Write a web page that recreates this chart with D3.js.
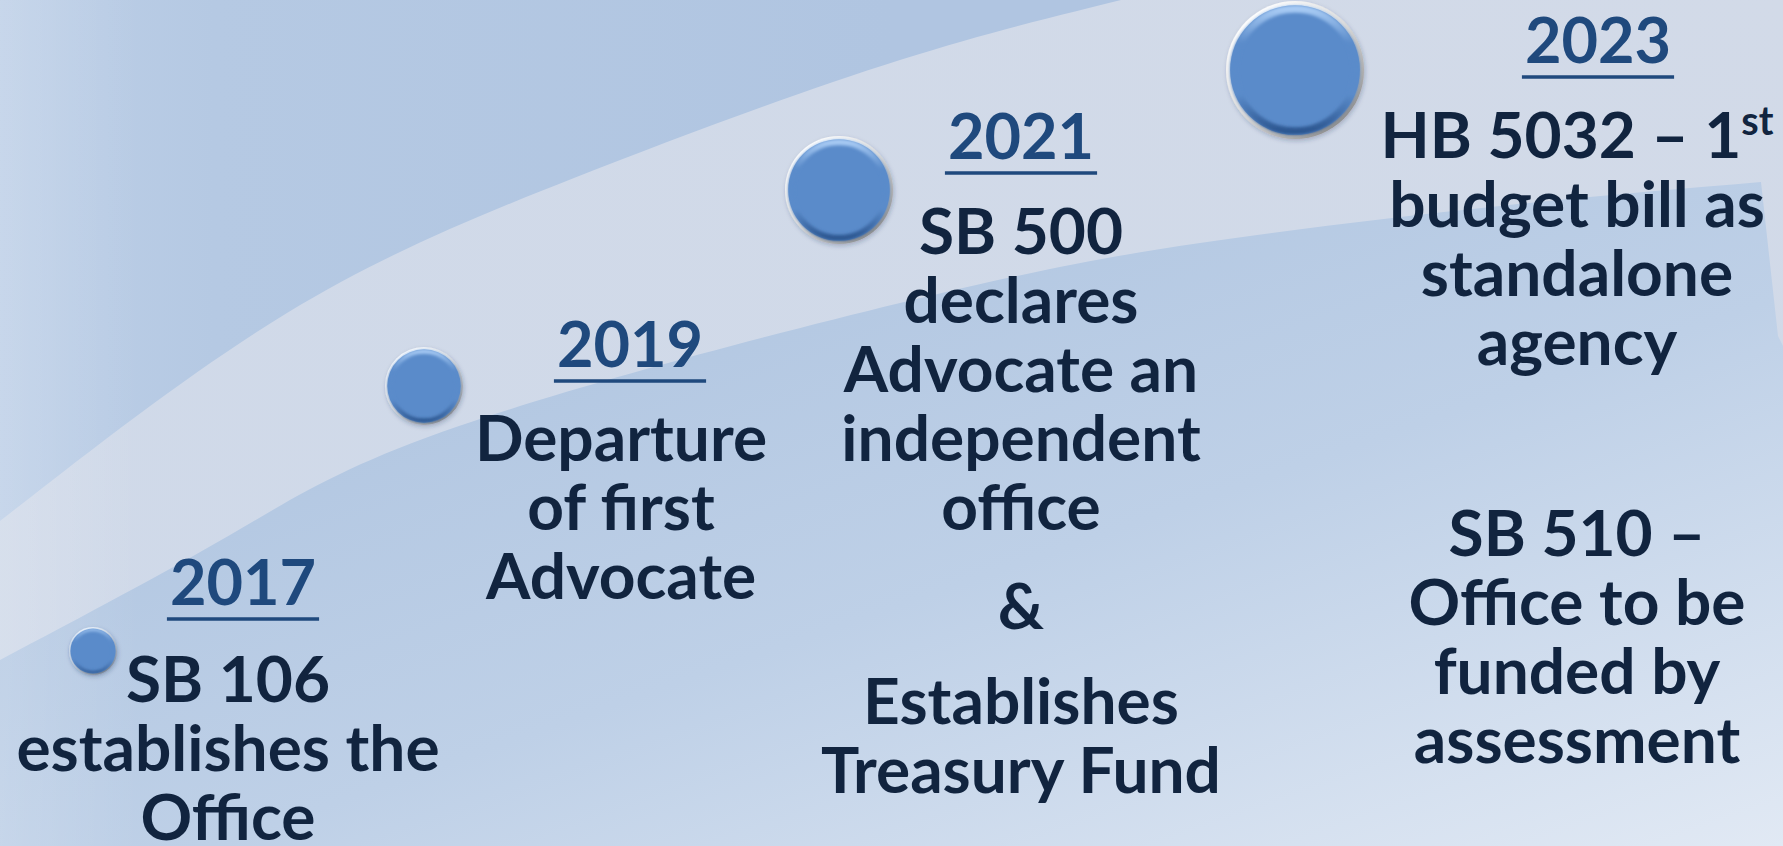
<!DOCTYPE html>
<html>
<head>
<meta charset="utf-8">
<script src="https://cdn.jsdelivr.net/npm/d3@7"></script>
<style>
  body { margin: 0; overflow: hidden; background: #b0c5e1; }
  svg { display: block; font-family: Lato, 'Open Sans', sans-serif; font-weight: 700; }
</style>
</head>
<body>
<svg></svg>
<script>
const width = 1783;
const height = 846;

// timeline data
const years = ['2017', '2019', '2021', '2023'];
const markerSize = [1, 2, 3, 4];
const notes2017 = [['SB 106', 'establishes the', 'Office']];
const notes2019 = [['Departure', 'of first', 'Advocate']];
const notes2021 = [['SB 500', 'declares', 'Advocate an', 'independent', 'office'], ['&'], ['Establishes', 'Treasury Fund']];
const notes2023 = [['HB 5032 – 1^st', 'budget bill as', 'standalone', 'agency'], ['SB 510 –', 'Office to be', 'funded by', 'assessment']];
const notes = [notes2017, notes2019, notes2021, notes2023];

// layout
const fontSize = 64;
const lineHeight = 69;
const dotX = d3.scaleOrdinal(years, [93, 424, 839, 1295]);
const dotY = d3.scaleOrdinal(years, [651, 386, 190, 70]);
const dotR = d3.scaleLinear().domain([1, 4]).range([24, 69]);
const yearX = d3.scaleOrdinal(years, [243, 630, 1021, 1598]);
const yearY = d3.scaleOrdinal(years, [605, 367, 159, 63]);
const textX = d3.scaleOrdinal(years, [228, 621, 1021, 1577]);
const blockY = d3.scaleOrdinal(years, [[702], [461], [254, 629, 724], [158, 556]]);

const svg = d3.select('svg')
  .attr('width', width)
  .attr('height', height);

const defs = svg.append('defs');

const grad = (id, attrs, stops) => {
  const g = defs.append('linearGradient').attr('id', id);
  Object.entries(attrs).forEach(([k, v]) => g.attr(k, v));
  stops.forEach(([o, c, op]) => g.append('stop').attr('offset', o).attr('stop-color', c).attr('stop-opacity', op == null ? 1 : op));
};

grad('bgTop', { x1: 0, y1: 0, x2: 1, y2: 0 }, [[0, '#bdcfe7'], [0.12, '#b5c9e3'], [0.5, '#b0c5e1'], [1, '#b0c5e1']]);
grad('band', { x1: 0, y1: 1, x2: 1, y2: 0 }, [[0, '#cfd9e9'], [1, '#d2dae8']]);
grad('bgLow', { x1: 0.25, y1: 0.2, x2: 1, y2: 1 }, [[0, '#b1c6e1'], [0.45, '#bed0e7'], [1, '#e1e9f4']]);
grad('leftGlow', { x1: 0, y1: 0, x2: 1, y2: 0 }, [[0, '#ffffff', 0.16], [1, '#ffffff', 0]]);
grad('rim', { x1: 0.15, y1: 0.1, x2: 0.9, y2: 0.95 }, [[0, '#ffffff'], [0.45, '#dcdcdc'], [0.8, '#a8a8a8'], [1, '#7c7c7c']]);
grad('bevel', { x1: 0, y1: 0, x2: 0, y2: 1 }, [[0, '#a8cbf4'], [0.28, '#5a8bca'], [0.7, '#5a8bca'], [1, '#2c5690']]);

const blur = defs.append('filter').attr('id', 'soft').attr('x', '-20%').attr('y', '-20%').attr('width', '140%').attr('height', '140%');
blur.append('feGaussianBlur').attr('stdDeviation', 1.6);
const shadow = defs.append('filter').attr('id', 'shadow').attr('x', '-30%').attr('y', '-30%').attr('width', '160%').attr('height', '160%');
shadow.append('feDropShadow').attr('dx', 1).attr('dy', 2).attr('stdDeviation', 2).attr('flood-color', '#1c3557').attr('flood-opacity', 0.25);

// background swoosh
const upperEdge = [[0, 521], [287, 313], [574, 178], [900, 60], [1121, 0], [1200, -25]];
const lowerEdge = [[0, 660], [230, 535], [459, 426], [900, 303], [1200, 243], [1500, 206], [1761, 182]];
const curve = d3.line().curve(d3.curveNatural);

svg.append('rect').attr('width', width).attr('height', height).attr('fill', 'url(#bgTop)');

svg.append('path')
  .attr('d', curve(upperEdge) + `L${width},-25L${width},${height}L0,${height}Z`)
  .attr('fill', 'url(#band)');

svg.append('path')
  .attr('d', curve(lowerEdge) + `L1778,336L${width},346L${width},${height}L0,${height}Z`)
  .attr('fill', 'url(#bgLow)');

svg.append('rect').attr('width', 140).attr('height', height).attr('fill', 'url(#leftGlow)');

// markers
const dots = svg.selectAll('g.dot')
  .data(years)
  .enter()
  .append('g')
  .attr('class', 'dot')
  .attr('transform', d => `translate(${dotX(d)},${dotY(d)})`);

dots.append('circle')
  .attr('r', (d, i) => dotR(markerSize[i]))
  .attr('fill', 'url(#rim)')
  .attr('filter', 'url(#shadow)');

dots.append('circle')
  .attr('r', (d, i) => dotR(markerSize[i]) * 0.94)
  .attr('fill', '#5a8bca');

dots.append('circle')
  .attr('r', (d, i) => dotR(markerSize[i]) * 0.885)
  .attr('fill', 'none')
  .attr('stroke', 'url(#bevel)')
  .attr('stroke-width', (d, i) => dotR(markerSize[i]) * 0.11)
  .attr('filter', 'url(#soft)');

// year headings
const heads = svg.selectAll('g.year')
  .data(years)
  .enter()
  .append('g')
  .attr('class', 'year');

heads.append('text')
  .attr('x', d => yearX(d))
  .attr('y', d => yearY(d))
  .attr('text-anchor', 'middle')
  .attr('font-size', fontSize - 1)
  .attr('fill', '#1f497d')
  .text(d => d);

heads.each(function (d) {
  const t = d3.select(this).select('text').node();
  const w = t.getComputedTextLength();
  d3.select(this).append('line')
    .attr('x1', yearX(d) - w / 2 - 3)
    .attr('x2', yearX(d) + w / 2 + 3)
    .attr('y1', yearY(d) + 14)
    .attr('y2', yearY(d) + 14)
    .attr('stroke', '#1f497d')
    .attr('stroke-width', 3.5);
});

// notes under each year
years.forEach((yr, i) => {
  const tops = blockY(yr);
  notes[i].forEach((para, p) => {
    para.forEach((line, l) => {
      const txt = svg.append('text')
        .attr('x', textX(yr))
        .attr('y', tops[p] + l * lineHeight)
        .attr('text-anchor', 'middle')
        .attr('font-size', fontSize)
        .attr('fill', '#11243f');
      const parts = line.split('^');
      txt.append('tspan').text(parts[0]);
      if (parts[1]) {
        txt.append('tspan')
          .attr('font-size', fontSize * 0.62)
          .attr('dy', -fontSize * 0.36)
          .text(parts[1]);
      }
    });
  });
});
</script>
</body>
</html>
